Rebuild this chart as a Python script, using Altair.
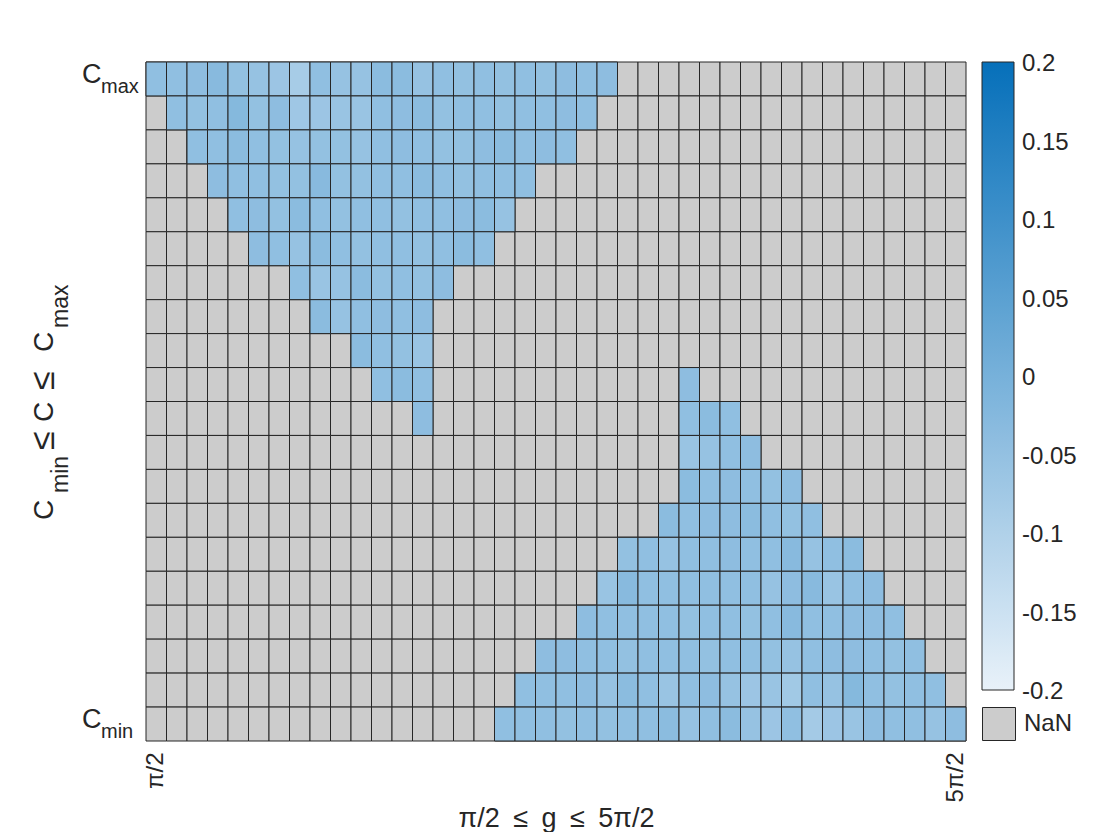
import altair as alt
import pandas as pd

# ---------------- data ----------------
n_cols = 40
n_rows = 20

# upper-left wedge (rows counted from the top, row 0 = C_max)
upper_rows = [0, 1, 2, 3, 4, 5, 6, 7, 8, 9, 10]
upper_starts = [0, 1, 2, 3, 4, 5, 7, 8, 10, 11, 13]
upper_values = [
    [-0.045, -0.045, -0.04, -0.03, -0.05, -0.055, -0.065, -0.085, -0.045, -0.055, -0.055, -0.035,
     -0.035, -0.055, -0.045, -0.05, -0.045, -0.05, -0.045, -0.05, -0.04, -0.045, -0.04],
    [-0.045, -0.05, -0.045, -0.025, -0.05, -0.04, -0.07, -0.065, -0.06, -0.06, -0.045, -0.04,
     -0.035, -0.05, -0.045, -0.045, -0.05, -0.045, -0.045, -0.04, -0.045],
    [-0.045, -0.045, -0.035, -0.045, -0.05, -0.055, -0.05, -0.05, -0.055, -0.045, -0.04, -0.045,
     -0.05, -0.05, -0.04, -0.035, -0.045, -0.04, -0.045],
    [-0.04, -0.045, -0.045, -0.05, -0.05, -0.03, -0.05, -0.05, -0.045, -0.045, -0.035, -0.045,
     -0.05, -0.045, -0.045, -0.045],
    [-0.045, -0.04, -0.05, -0.035, -0.045, -0.05, -0.045, -0.045, -0.05, -0.045, -0.045, -0.04,
     -0.035, -0.055],
    [-0.04, -0.045, -0.055, -0.035, -0.045, -0.05, -0.045, -0.045, -0.05, -0.045, -0.035, -0.045],
    [-0.045, -0.06, -0.055, -0.035, -0.05, -0.045, -0.05, -0.04],
    [-0.035, -0.055, -0.045, -0.04, -0.045, -0.04],
    [-0.035, -0.045, -0.05, -0.06],
    [-0.045, -0.035, -0.045],
    [-0.04],
]

# lower-right wedge
lower_rows = [9, 10, 11, 12, 13, 14, 15, 16, 17, 18, 19]
lower_starts = [26, 26, 26, 26, 25, 23, 22, 21, 19, 18, 17]
lower_values = [
    [-0.04],
    [-0.045, -0.035, -0.045],
    [-0.06, -0.055, -0.045, -0.04],
    [-0.035, -0.045, -0.04, -0.045, -0.05, -0.04],
    [-0.035, -0.045, -0.04, -0.04, -0.035, -0.045, -0.05, -0.045],
    [-0.05, -0.045, -0.055, -0.045, -0.045, -0.04, -0.045, -0.045, -0.03, -0.055, -0.045, -0.035],
    [-0.06, -0.03, -0.045, -0.045, -0.045, -0.045, -0.045, -0.045, -0.055, -0.04, -0.03, -0.06,
     -0.045, -0.04],
    [-0.04, -0.045, -0.045, -0.045, -0.045, -0.05, -0.045, -0.045, -0.05, -0.045, -0.03, -0.045,
     -0.045, -0.04, -0.04, -0.045],
    [-0.04, -0.04, -0.045, -0.045, -0.05, -0.045, -0.045, -0.045, -0.05, -0.045, -0.045, -0.05,
     -0.055, -0.045, -0.04, -0.04, -0.045, -0.05, -0.045],
    [-0.045, -0.045, -0.045, -0.04, -0.055, -0.035, -0.045, -0.06, -0.045, -0.04, -0.055, -0.065,
     -0.06, -0.075, -0.045, -0.055, -0.025, -0.045, -0.05, -0.045, -0.045],
    [-0.045, -0.045, -0.045, -0.05, -0.045, -0.05, -0.045, -0.045, -0.035, -0.055, -0.045, -0.035,
     -0.055, -0.065, -0.045, -0.08, -0.065, -0.06, -0.04, -0.045, -0.045, -0.055, -0.04],
]

x_tick_cols = [0, 39]
x_tick_labels = ["π/2", "5π/2"]
x_title = "π/2\u2002≤\u2002g\u2002≤\u20025π/2"

y_tick_rows = [0, 19]
y_tick_main = ["C", "C"]
y_tick_sub = ["max", "min"]

cb_values = [0.2, 0.15, 0.1, 0.05, 0.0, -0.05, -0.1, -0.15, -0.2]
cb_labels = ["0.2", "0.15", "0.1", "0.05", "0", "-0.05", "-0.1", "-0.15", "-0.2"]
cb_inner_ticks = [0.15, 0.1, 0.05, 0.0, -0.05, -0.1, -0.15]
nan_label = "NaN"

# ---------------- table ----------------
grid = {}
for rows, starts, vals in ((upper_rows, upper_starts, upper_values),
                           (lower_rows, lower_starts, lower_values)):
    for r, s, vs in zip(rows, starts, vals):
        for i, v in enumerate(vs):
            grid[(r, s + i)] = v

records = []
for r in range(n_rows):
    for c in range(n_cols):
        records.append({"row": r, "col": c, "value": grid.get((r, c)), "missing": nan_label})
df = pd.DataFrame(records)

sub_df = pd.DataFrame({"row": y_tick_rows, "main": y_tick_main, "sub": y_tick_sub})
tick_df = pd.DataFrame({"v": cb_inner_ticks})
cb_df = pd.DataFrame({"v": cb_values, "label": cb_labels})

# ---------------- style ----------------
FONT = "Liberation Sans"
TXT = "#262626"
GRID = "#262626"
NAN_COLOR = "#cccccc"
C_LOW, C_HIGH = "#e8f1f9", "#0670ba"
W, H = 820, 679
CB_LEN = 628

x_expr = " : ".join(f"datum.value == {c} ? '{t}'" for c, t in zip(x_tick_cols, x_tick_labels)) + " : ''"
y_expr = " : ".join(f"datum.value == {r} ? '{t}'" for r, t in zip(y_tick_rows, y_tick_main)) + " : ''"

x_enc = alt.X(
    "col:O",
    scale=alt.Scale(domain=list(range(n_cols)), paddingInner=0, paddingOuter=0),
    axis=alt.Axis(values=x_tick_cols, labelExpr=x_expr, labelAngle=270, labelAlign="right",
                  labelBaseline="middle", labelFontSize=24, labelPadding=11, ticks=False, tickSize=0,
                  domain=False, labelColor=TXT, title=x_title, titleFontSize=27,
                  titleFontWeight="normal", titleColor=TXT, titleY=85,
                  titleBaseline="alphabetic"),
)
y_scale = alt.Scale(domain=list(range(n_rows)), paddingInner=0, paddingOuter=0)
cb_scale = alt.Scale(domain=[-0.2, 0.2], range=[CB_LEN, 0])

base_layer = alt.Chart(df).mark_rect(stroke=GRID, strokeWidth=1).encode(
    x=x_enc,
    y=alt.Y("row:O", scale=y_scale,
            axis=alt.Axis(values=y_tick_rows, labelExpr=y_expr, labelFontSize=27, labelPadding=45,
                          ticks=False, tickSize=0, domain=False, title=None, labelAlign="right",
                          labelBaseline="middle", labelOffset=-4, labelColor=TXT)),
    fill=alt.Fill("missing:N", scale=alt.Scale(domain=[nan_label], range=[NAN_COLOR]),
                  legend=alt.Legend(orient="none", legendX=836, legendY=645, title=None,
                                    symbolType="square", symbolSize=1089,
                                    symbolStrokeColor=GRID, symbolStrokeWidth=1,
                                    labelFontSize=24, labelOffset=8, labelColor=TXT)),
)

value_layer = alt.Chart(df).transform_filter("isValid(datum.value)").mark_rect(
    stroke=GRID, strokeWidth=1
).encode(
    x=x_enc,
    y=alt.Y("row:O", scale=y_scale, axis=None),
    color=alt.Color("value:Q",
                    scale=alt.Scale(domain=[-0.2, 0.2], range=[C_LOW, C_HIGH], interpolate="rgb"),
                    legend=alt.Legend(orient="none", legendX=836, legendY=0, direction="vertical",
                                      title=None, gradientLength=CB_LEN, gradientThickness=32,
                                      gradientStrokeColor=GRID, gradientStrokeWidth=1,
                                      labelOpacity=0, labelExpr="''")),
)

sub_layer = alt.Chart(sub_df).mark_text(
    align="left", baseline="alphabetic", fontSize=20, dy=14, color=TXT, font=FONT
).encode(
    y=alt.Y("row:O", scale=y_scale, axis=None),
    x=alt.value(-45),
    text="sub:N",
)

tick_layer = alt.Chart(tick_df).mark_rule(color=GRID, strokeWidth=1).encode(
    y=alt.Y("v:Q", scale=cb_scale, axis=None),
    x=alt.value(862),
    x2=alt.value(868),
)

cb_label_layer = alt.Chart(cb_df).mark_text(
    align="left", baseline="middle", fontSize=24, dy=2, color=TXT, font=FONT
).encode(
    y=alt.Y("v:Q", scale=cb_scale, axis=None),
    x=alt.value(876),
    text="label:N",
)

# y-axis title, built from pieces so the subscripts can be lowered
y_title_parts = ["C", "min", "≤", "C", "≤", "C", "max"]
y_title_kind = ["big", "sub", "rel", "big", "rel", "big", "sub"]
y_title_pos = [458, 431, 388, 360, 328, 290, 266]
kind_size = {"big": 28, "sub": 23, "rel": 34}
kind_x = {"big": -93, "sub": -78, "rel": -92}
title_layers = []
for part, kind, pos in zip(y_title_parts, y_title_kind, y_title_pos):
    title_layers.append(
        alt.Chart(pd.DataFrame({"t": [part]})).mark_text(
            angle=270, align="left", baseline="alphabetic",
            fontSize=kind_size[kind], color=TXT, font=FONT
        ).encode(
            x=alt.value(kind_x[kind]),
            y=alt.value(pos),
            text="t:N",
        )
    )

chart = alt.layer(base_layer, value_layer, sub_layer, tick_layer, cb_label_layer,
                  *title_layers).resolve_scale(
    y="independent"
).properties(
    width=W, height=H,
    autosize=alt.AutoSizeParams(type="none"),
    padding={"left": 138, "top": 54, "right": 146, "bottom": 91},
).configure(
    font=FONT, background="white"
).configure_view(stroke=None)

chart.save("out.html", embed_options={"renderer": "svg", "actions": False})
